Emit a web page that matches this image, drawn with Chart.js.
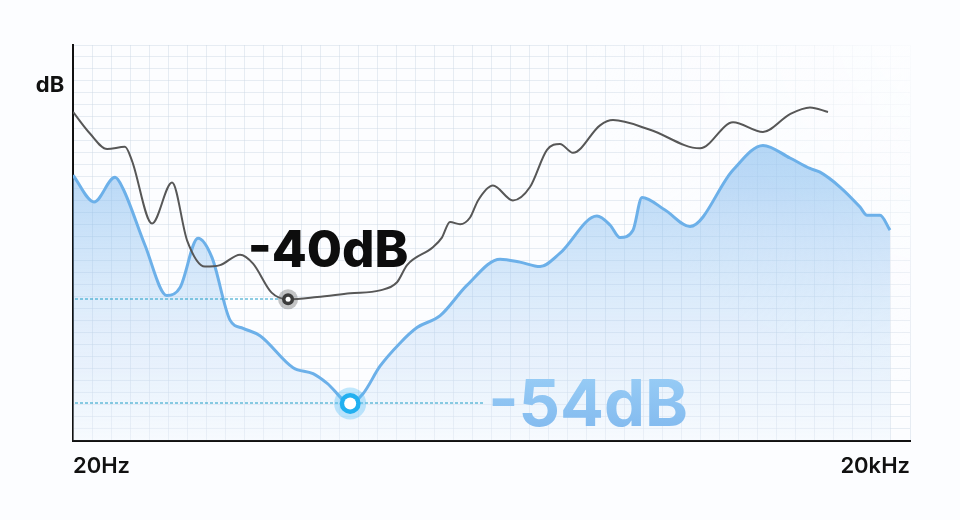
<!DOCTYPE html>
<html>
<head>
<meta charset="utf-8">
<script src="https://cdn.jsdelivr.net/npm/chart.js@4.4.1/dist/chart.umd.min.js"></script>
<style>
  html, body { margin: 0; padding: 0; background: #fcfdff; }
  #wrap { width: 960px; height: 520px; }
</style>
</head>
<body>
<div id="wrap"><canvas id="fr"></canvas></div>
<script>
// frequency response, before / after
const grayFreq = [20, 23, 26.5, 30.7, 32.5, 38.4, 45.3, 51.3, 59.4, 67.3, 79.4, 88.4, 103, 118, 150, 197, 252, 290, 315, 390, 420, 449, 488, 530, 566, 640, 755, 869, 1000, 1113, 1239, 1549, 1724, 2340, 3534, 4642, 5944, 7430, 8762, 10166];
const grayDb = [-14.8, -17.7, -19.8, -19.5, -21.3, -29.8, -24.3, -32.1, -35.6, -35.4, -34.0, -35.2, -39.1, -40, -39.7, -39.2, -38.8, -37.7, -35.4, -33.0, -31.7, -29.6, -29.9, -29.0, -26.7, -24.7, -26.7, -24.9, -19.9, -19.1, -20.3, -16.6, -15.9, -17.2, -19.7, -16.2, -17.5, -15.1, -14.2, -14.8];

const blueFreq = [20, 23.8, 28.3, 30.2, 36.2, 43.4, 48.4, 56.1, 63, 73.1, 81.4, 93.6, 123, 145, 163, 197, 219, 252, 297, 342, 414, 517, 679, 800, 944, 1113, 1510, 1682, 1827, 2033, 2190, 2649, 3254, 4642, 5944, 7430, 8762, 9516, 11224, 13242, 14030, 15616, 16958];
const blueDb = [-23.3, -26.9, -23.6, -25.1, -32.7, -39.5, -38.4, -31.8, -34.4, -42.8, -43.9, -44.9, -49.2, -50.0, -51.3, -54, -52.7, -49.0, -45.9, -43.8, -42.2, -38.1, -34.6, -35.0, -35.6, -33.8, -28.8, -30.0, -31.7, -30.7, -26.3, -28.0, -30.2, -22.6, -19.3, -21.0, -22.4, -22.9, -24.9, -27.6, -28.7, -28.7, -30.7];

const xTickLabels = ['20Hz', '20kHz'];
const yUnit = 'dB';
const grayMarkLabel = '-40dB';
const blueMarkLabel = '-54dB';

const grayMin = grayDb.indexOf(Math.min(...grayDb));
const blueMin = blueDb.indexOf(Math.min(...blueDb));

const FONT = 'Inter, "Noto Sans", sans-serif';

const marks = {
  id: 'marks',
  beforeDatasetsDraw(chart) {
    const { ctx, chartArea: a } = chart;
    // white haze over the top-right of the grid
    ctx.save();
    const g = ctx.createRadialGradient(a.right + 40, a.top - 20, 10, a.right + 40, a.top - 20, 360);
    g.addColorStop(0, 'rgba(252,253,255,0.95)');
    g.addColorStop(1, 'rgba(252,253,255,0)');
    ctx.fillStyle = g;
    ctx.fillRect(a.left + 1, a.top, a.right - a.left, a.bottom - a.top - 1);
    ctx.restore();
  },
  afterDraw(chart) {
    const { ctx, chartArea: a } = chart;
    const gp = chart.getDatasetMeta(0).data[grayMin];
    const bp = chart.getDatasetMeta(1).data[blueMin];

    ctx.save();
    // dashed guides
    ctx.strokeStyle = '#1f9cc6';
    ctx.lineWidth = 1;
    ctx.setLineDash([3, 2]);
    ctx.beginPath();
    ctx.moveTo(a.left + 2, Math.round(gp.y));
    ctx.lineTo(gp.x - 8, Math.round(gp.y));
    ctx.moveTo(a.left + 2, Math.round(bp.y));
    ctx.lineTo(bp.x + 133, Math.round(bp.y));
    ctx.stroke();
    ctx.setLineDash([]);

    // gray marker
    ctx.fillStyle = 'rgba(90,90,90,0.35)';
    ctx.beginPath(); ctx.arc(gp.x, gp.y, 10, 0, Math.PI * 2); ctx.fill();
    ctx.fillStyle = '#3c3c3c';
    ctx.beginPath(); ctx.arc(gp.x, gp.y, 6, 0, Math.PI * 2); ctx.fill();
    ctx.fillStyle = '#fff';
    ctx.beginPath(); ctx.arc(gp.x, gp.y, 2.5, 0, Math.PI * 2); ctx.fill();

    // blue marker
    ctx.fillStyle = 'rgba(79,190,245,0.35)';
    ctx.beginPath(); ctx.arc(bp.x, bp.y, 16, 0, Math.PI * 2); ctx.fill();
    ctx.fillStyle = '#22b0f0';
    ctx.beginPath(); ctx.arc(bp.x, bp.y, 10.5, 0, Math.PI * 2); ctx.fill();
    ctx.fillStyle = '#fff';
    ctx.beginPath(); ctx.arc(bp.x, bp.y, 6, 0, Math.PI * 2); ctx.fill();

    // value labels
    ctx.textBaseline = 'alphabetic';
    ctx.textAlign = 'center';
    ctx.fillStyle = '#0d0d0d';
    ctx.font = '800 51px ' + FONT;
    ctx.fillText(grayMarkLabel, gp.x + 40, gp.y - 32);

    ctx.textAlign = 'left';
    ctx.font = '700 65px ' + FONT;
    const tg = ctx.createLinearGradient(0, bp.y - 25, 0, bp.y + 25);
    tg.addColorStop(0, '#96cbf5');
    tg.addColorStop(1, '#84bbef');
    ctx.fillStyle = tg;
    ctx.fillText(blueMarkLabel, bp.x + 138, bp.y + 23);

    // axis unit
    ctx.fillStyle = '#111';
    ctx.textAlign = 'center';
    ctx.font = '700 22px ' + FONT;
    ctx.fillText(yUnit, a.left - 23, a.top + 47);
    ctx.restore();
  }
};

const ctx = document.getElementById('fr').getContext('2d');

new Chart(ctx, {
  type: 'line',
  data: {
    datasets: [
      {
        label: 'before',
        data: grayFreq.map((f, i) => ({ x: f, y: grayDb[i] })),
        borderColor: '#575757',
        borderWidth: 2,
        pointRadius: 0,
        fill: false,
        cubicInterpolationMode: 'monotone'
      },
      {
        label: 'after',
        data: blueFreq.map((f, i) => ({ x: f, y: blueDb[i] })),
        borderColor: '#6cb0e9',
        borderWidth: 3,
        pointRadius: 0,
        fill: 'start',
        cubicInterpolationMode: 'monotone',
        backgroundColor: (c) => {
          const a = c.chart.chartArea;
          if (!a) return 'rgba(140,190,240,0.3)';
          const g = c.chart.ctx.createLinearGradient(0, a.top, 0, a.bottom);
          g.addColorStop(0, 'rgba(110,175,236,0.65)');
          g.addColorStop(0.35, 'rgba(125,183,238,0.5)');
          g.addColorStop(0.75, 'rgba(175,210,245,0.3)');
          g.addColorStop(1, 'rgba(240,246,253,0.4)');
          return g;
        }
      }
    ]
  },
  options: {
    responsive: true,
    maintainAspectRatio: false,
    animation: false,
    layout: { padding: { left: 73, top: 45, right: 50, bottom: 27 } },
    plugins: {
      legend: { display: false },
      tooltip: { enabled: false }
    },
    scales: {
      x: {
        type: 'logarithmic',
        min: 20,
        max: 20000,
        afterBuildTicks: (s) => {
          const n = 44;
          s.ticks = Array.from({ length: n + 1 }, (_, i) => ({ value: 20 * Math.pow(1000, i / n) }));
        },
        border: { color: '#111', width: 2 },
        grid: { color: 'rgba(205,214,228,0.45)', drawTicks: false },
        ticks: {
          autoSkip: false,
          maxRotation: 0,
          align: 'inner',
          padding: 13,
          color: '#111',
          font: { family: FONT, size: 22, weight: '600' },
          callback: (v, i, t) => i === 0 ? xTickLabels[0] : (i === t.length - 1 ? xTickLabels[1] : '')
        }
      },
      y: {
        min: -59,
        max: -5.8,
        afterBuildTicks: (s) => {
          const n = 33;
          s.ticks = Array.from({ length: n + 1 }, (_, i) => ({ value: -59 + (53.2 * i) / n }));
        },
        border: { color: '#111', width: 2 },
        grid: { color: 'rgba(205,214,228,0.45)', drawTicks: false },
        ticks: { display: false }
      }
    }
  },
  plugins: [marks]
});
</script>
</body>
</html>
